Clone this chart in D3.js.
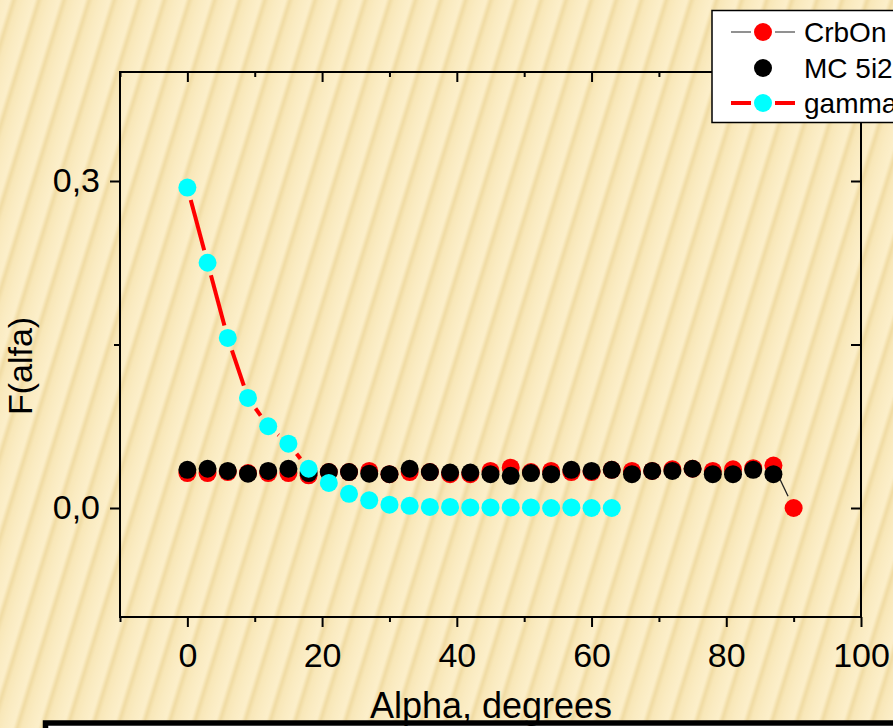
<!DOCTYPE html>
<html>
<head>
<meta charset="utf-8">
<script src="https://cdnjs.cloudflare.com/ajax/libs/d3/7.8.5/d3.min.js"></script>
<style>
  body { margin: 0; padding: 0; overflow: hidden; }
  text { font-family: "Liberation Sans", Arial, sans-serif; fill: #000; }
</style>
</head>
<body>
<svg id="chart"></svg>
<script>
// angles, step 3 degrees
const alpha = d3.range(0, 91, 3);

const crbOn = [0.032, 0.032, 0.033, 0.032, 0.032, 0.032, 0.030, 0.033, 0.033, 0.034, 0.031,
  0.033, 0.033, 0.031, 0.031, 0.034, 0.037, 0.033, 0.034, 0.033, 0.033, 0.035, 0.034, 0.034,
  0.0355, 0.036, 0.034, 0.0355, 0.0365, 0.039, 0.0];

const mc5i2 = [0.035, 0.036, 0.034, 0.0315, 0.034, 0.036, 0.032, 0.033, 0.033, 0.0315, 0.031,
  0.036, 0.033, 0.0325, 0.0325, 0.031, 0.0295, 0.032, 0.031, 0.035, 0.034, 0.035, 0.031, 0.034,
  0.034, 0.036, 0.031, 0.031, 0.035, 0.031];

const gamma = [0.294, 0.225, 0.156, 0.101, 0.075, 0.059, 0.036, 0.023, 0.013, 0.007, 0.003,
  0.002, 0.001, 0.001, 0.0005, 0.0005, 0.0005, 0.0005, 0.0, 0.0005, 0.0, 0.0];

const xMajor = [0, 20, 40, 60, 80, 100];
const xMinor = [-10, 10, 30, 50, 70, 90];
const yMajor = [0, 0.3];
const yMinor = [0.15];

const legendLabels = ["CrbOn", "MC 5i2", "gamma"];

const width = 893;
const height = 728;
const R = 9;       // symbol radius
const GAP = 13;    // line gap from symbol centre

const svg = d3.select('#chart')
  .attr('width', width)
  .attr('height', height);

// textured background
const defs = svg.append('defs');
const grad = defs.append('linearGradient')
  .attr('id', 'stripeGrad')
  .attr('x1', 0).attr('x2', 1).attr('y1', 0).attr('y2', 0);
[[0, '#faebc1'], [0.38, '#fcefca'], [0.55, '#f0dba3'], [0.72, '#f8e7b8'], [1, '#faebc1']]
  .forEach(function(s) {
    grad.append('stop').attr('offset', s[0]).attr('stop-color', s[1]);
  });
defs.append('pattern')
  .attr('id', 'stripes')
  .attr('patternUnits', 'userSpaceOnUse')
  .attr('width', 24).attr('height', 40)
  .attr('patternTransform', 'rotate(17)')
  .append('rect')
  .attr('width', 24).attr('height', 40)
  .attr('fill', 'url(#stripeGrad)');

svg.append('rect')
  .attr('width', width).attr('height', height)
  .attr('fill', 'url(#stripes)');

const x = d3.scaleLinear().domain([-10, 100]).range([120, 861]);
const y = d3.scaleLinear().domain([-0.1, 0.4]).range([617, 72]);

// bottom box of the slide
svg.append('rect')
  .attr('x', 45.5).attr('y', 723)
  .attr('width', 900).attr('height', 40)
  .attr('fill', '#fff')
  .attr('stroke', '#000')
  .attr('stroke-width', 5.5);

// axes
const fmtY = function(d) { return d3.format('.1f')(d).replace('.', ','); };

function styleAxis(g) {
  g.select('.domain').remove();
  g.selectAll('line').attr('stroke', '#000').attr('stroke-width', 2);
  g.selectAll('text').attr('font-size', 34).attr('font-family', '"Liberation Sans", Arial, sans-serif');
}

svg.append('g')
  .attr('transform', 'translate(0,617)')
  .call(d3.axisBottom(x).tickValues(xMajor).tickSize(10).tickPadding(16).tickSizeOuter(0))
  .call(styleAxis);
svg.append('g')
  .attr('transform', 'translate(0,617)')
  .call(d3.axisBottom(x).tickValues(xMinor).tickSize(5).tickFormat('').tickSizeOuter(0))
  .call(styleAxis);
svg.append('g')
  .attr('transform', 'translate(0,72)')
  .call(d3.axisTop(x).tickValues(xMajor).tickSize(-10).tickFormat('').tickSizeOuter(0))
  .call(styleAxis);
svg.append('g')
  .attr('transform', 'translate(0,72)')
  .call(d3.axisTop(x).tickValues(xMinor).tickSize(-5).tickFormat('').tickSizeOuter(0))
  .call(styleAxis);

svg.append('g')
  .attr('transform', 'translate(120,0)')
  .call(d3.axisLeft(y).tickValues(yMajor).tickSize(10).tickPadding(10).tickFormat(fmtY).tickSizeOuter(0))
  .call(styleAxis);
svg.append('g')
  .attr('transform', 'translate(120,0)')
  .call(d3.axisLeft(y).tickValues(yMinor).tickSize(6).tickFormat('').tickSizeOuter(0))
  .call(styleAxis);
svg.append('g')
  .attr('transform', 'translate(861,0)')
  .call(d3.axisRight(y).tickValues(yMajor.concat(yMinor)).tickSize(-10).tickFormat('').tickSizeOuter(0))
  .call(styleAxis);

svg.append('rect')
  .attr('x', x(-10)).attr('y', y(0.4))
  .attr('width', x(100) - x(-10)).attr('height', y(-0.1) - y(0.4))
  .attr('fill', 'none')
  .attr('stroke', '#000')
  .attr('stroke-width', 2);

// axis titles
svg.append('text')
  .attr('transform', 'translate(32,366) rotate(-90)')
  .attr('text-anchor', 'middle')
  .attr('font-size', 34)
  .text('F(alfa)');

svg.append('text')
  .attr('x', 491).attr('y', 718)
  .attr('text-anchor', 'middle')
  .attr('font-size', 36)
  .text('Alpha, degrees');

// line with gaps around symbols (Origin style)
function gapSegments(vals) {
  const pts = vals.map(function(v, i) { return [x(alpha[i]), y(v)]; });
  const segs = [];
  for (let i = 0; i < pts.length - 1; i++) {
    const dx = pts[i + 1][0] - pts[i][0];
    const dy = pts[i + 1][1] - pts[i][1];
    const len = Math.sqrt(dx * dx + dy * dy);
    if (len <= 2 * GAP) continue;
    const ux = dx / len, uy = dy / len;
    segs.push([pts[i][0] + ux * GAP, pts[i][1] + uy * GAP,
      pts[i + 1][0] - ux * GAP, pts[i + 1][1] - uy * GAP]);
  }
  return segs;
}

function drawSeries(vals, lineColor, lineWidth, fill) {
  const g = svg.append('g');
  if (lineColor) {
    g.selectAll('line')
      .data(gapSegments(vals))
      .enter().append('line')
      .attr('x1', function(d) { return d[0]; })
      .attr('y1', function(d) { return d[1]; })
      .attr('x2', function(d) { return d[2]; })
      .attr('y2', function(d) { return d[3]; })
      .attr('stroke', lineColor)
      .attr('stroke-width', lineWidth);
  }
  g.selectAll('circle')
    .data(vals)
    .enter().append('circle')
    .attr('cx', function(d, i) { return x(alpha[i]); })
    .attr('cy', function(d) { return y(d); })
    .attr('r', R)
    .attr('fill', fill);
}

drawSeries(crbOn, '#222', 1.3, '#ff0000');
drawSeries(mc5i2, null, 0, '#000');
drawSeries(gamma, '#ff0000', 4, '#00ffff');

// LEGEND
const legend = svg.append('g').attr('id', 'legend');
legend.append('rect')
  .attr('x', 712).attr('y', 10.5)
  .attr('width', 200).attr('height', 112)
  .attr('fill', '#fff')
  .attr('stroke', '#000')
  .attr('stroke-width', 1.5);

const legendItems = [
  { label: legendLabels[0], line: '#555', lw: 1.3, fill: '#ff0000', cy: 32 },
  { label: legendLabels[1], line: null, lw: 0, fill: '#000', cy: 68 },
  { label: legendLabels[2], line: '#ff0000', lw: 4, fill: '#00ffff', cy: 103 }
];

const legendElem = legend.selectAll('g.item')
  .data(legendItems)
  .enter().append('g')
  .attr('class', 'item')
  .attr('transform', function(d) { return 'translate(0,' + d.cy + ')'; });

legendElem.filter(function(d) { return d.line; })
  .selectAll('line')
  .data(function(d) { return [[731, 751, d], [775, 795, d]]; })
  .enter().append('line')
  .attr('x1', function(d) { return d[0]; })
  .attr('x2', function(d) { return d[1]; })
  .attr('y1', 0).attr('y2', 0)
  .attr('stroke', function(d) { return d[2].line; })
  .attr('stroke-width', function(d) { return d[2].lw; });

legendElem.append('circle')
  .attr('cx', 763).attr('cy', 0)
  .attr('r', R)
  .attr('fill', function(d) { return d.fill; });

legendElem.append('text')
  .attr('x', 804).attr('y', 10)
  .attr('font-size', 28)
  .text(function(d) { return d.label; });
</script>
</body>
</html>
